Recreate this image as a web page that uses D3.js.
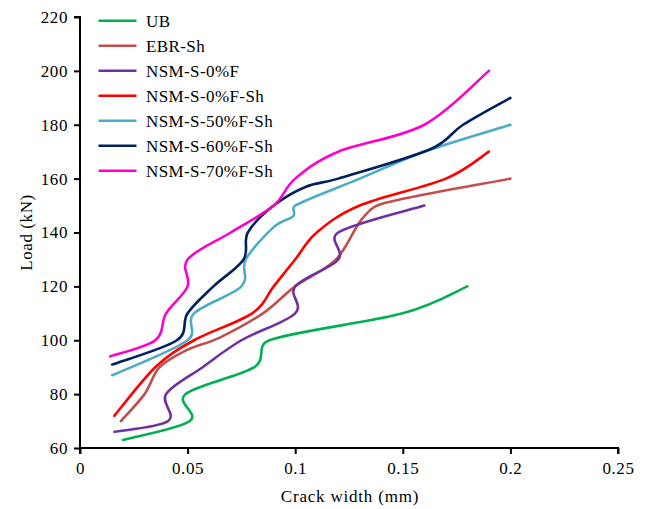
<!DOCTYPE html>
<html>
<head>
<meta charset="utf-8">
<script src="https://cdn.jsdelivr.net/npm/d3@7"></script>
<style>
  html, body { margin: 0; padding: 0; background: #fff; }
  svg text { font-family: "Liberation Serif", "Times New Roman", serif; fill: #000; }
</style>
</head>
<body>
<svg id="chart" width="649" height="509"></svg>
<script>
// ---- data (crack width in mm, load in kN) ----
const seriesNames = ["UB", "EBR-Sh", "NSM-S-0%F", "NSM-S-0%F-Sh", "NSM-S-50%F-Sh", "NSM-S-60%F-Sh", "NSM-S-70%F-Sh"];
const seriesColors = ["#00B050", "#C0504D", "#7030A0", "#FF0000", "#4BACC6", "#002060", "#FF00CC"];

const ubWidth   = [0.020, 0.051, 0.049, 0.081, 0.088, 0.150, 0.180];
const ubLoad    = [63, 70, 80, 90, 100, 110, 120];

const ebrWidth  = [0.019, 0.030, 0.037, 0.050, 0.065, 0.085, 0.100, 0.119, 0.131, 0.142, 0.200];
const ebrLoad   = [70, 80, 90, 96.5, 101, 110, 120, 130, 145, 151, 160];

const nsm0Width = [0.016, 0.041, 0.040, 0.057, 0.075, 0.100, 0.100, 0.120, 0.120, 0.160];
const nsm0Load  = [66, 70, 80, 90, 100, 110, 120, 130, 140, 150];

const nsm0ShWidth = [0.016, 0.035, 0.053, 0.080, 0.090, 0.100, 0.110, 0.130, 0.170, 0.190];
const nsm0ShLoad  = [72, 90, 100, 110, 120, 130, 140, 150, 160, 170];

const nsm50Width = [0.015, 0.050, 0.053, 0.075, 0.077, 0.090, 0.099, 0.100, 0.130, 0.160, 0.200];
const nsm50Load  = [87, 100, 110, 120, 130, 142, 146, 150, 160, 170, 180];

const nsm60Width = [0.015, 0.045, 0.050, 0.062, 0.076, 0.078, 0.090, 0.105, 0.120, 0.163, 0.178, 0.200];
const nsm60Load  = [91, 100, 110, 120, 130, 140, 150, 157, 160, 171, 180, 190];

const nsm70Width = [0.014, 0.035, 0.040, 0.050, 0.050, 0.070, 0.090, 0.100, 0.120, 0.160, 0.190];
const nsm70Load  = [94, 100, 110, 120, 130, 140, 150, 160, 170, 180, 200];

const xTicks = [0, 0.05, 0.1, 0.15, 0.2, 0.25];
const yTicks = [60, 80, 100, 120, 140, 160, 180, 200, 220];
const xTickLabels = ["0", "0.05", "0.1", "0.15", "0.2", "0.25"];
const xTitle = "Crack width (mm)";
const yTitle = "Load (kN)";

const widths = [ubWidth, ebrWidth, nsm0Width, nsm0ShWidth, nsm50Width, nsm60Width, nsm70Width];
const loads  = [ubLoad, ebrLoad, nsm0Load, nsm0ShLoad, nsm50Load, nsm60Load, nsm70Load];

// ---- layout ----
const svg = d3.select("#chart");
const x = d3.scaleLinear().domain([0, 0.25]).range([80, 618]);
const y = d3.scaleLinear().domain([60, 220]).range([448, 17]);

// axes
const xAxis = d3.axisBottom(x).tickValues(xTicks).tickFormat((d, i) => xTickLabels[i]).tickSize(6).tickPadding(8);
const yAxis = d3.axisLeft(y).tickValues(yTicks).tickFormat(d3.format("d")).tickSize(6).tickPadding(6);

const gx = svg.append("g").attr("transform", `translate(0,${y(60)})`).call(xAxis);
const gy = svg.append("g").attr("transform", `translate(${x(0)},0)`).call(yAxis);
[gx, gy].forEach(g => {
  g.select(".domain").attr("stroke", "#000").attr("stroke-width", 2);
  g.selectAll(".tick line").attr("stroke", "#000").attr("stroke-width", 2);
  g.selectAll(".tick text").style("font-family", "Liberation Serif, serif").style("font-size", "17px").style("letter-spacing", "0.6px").attr("fill", "#000");
});
gx.select(".domain").attr("d", `M${x(0)},6V0H${x(0.25)}V6`);
gy.select(".domain").attr("d", `M-6,${y(220)}H0V${y(60)}`);

// Excel-style smoothed scatter line (Bezier with limited handles), built from scaled points
function smoothPath(pts) {
  const p = d3.path();
  const n = pts.length;
  const dist = (a, b) => Math.hypot(b[0] - a[0], b[1] - a[1]);
  p.moveTo(pts[0][0], pts[0][1]);
  for (let i = 0; i < n - 1; i++) {
    const p0 = pts[Math.max(i - 1, 0)], p1 = pts[i], p2 = pts[i + 1], p3 = pts[Math.min(i + 2, n - 1)];
    const d12 = dist(p1, p2), d02 = dist(p0, p2), d13 = dist(p1, p3);
    let f0 = 1 / 6, f1 = 1 / 6;
    if (d02 / 6 >= d12 / 2 && d02 > 0) f0 = d12 / d02 / 2;
    if (d13 / 6 >= d12 / 2 && d13 > 0) f1 = d12 / d13 / 2;
    const c1 = [p1[0] + (p2[0] - p0[0]) * f0, p1[1] + (p2[1] - p0[1]) * f0];
    const c2 = [p2[0] - (p3[0] - p1[0]) * f1, p2[1] - (p3[1] - p1[1]) * f1];
    p.bezierCurveTo(c1[0], c1[1], c2[0], c2[1], p2[0], p2[1]);
  }
  return p.toString();
}

seriesNames.forEach((name, i) => {
  const pts = widths[i].map((w, j) => [x(w), y(loads[i][j])]);
  svg.append("path")
    .attr("fill", "none")
    .attr("stroke", seriesColors[i])
    .attr("stroke-width", 2.6)
    .attr("stroke-linecap", "round")
    .attr("stroke-linejoin", "round")
    .attr("d", smoothPath(pts));
});

// legend
const legend = svg.append("g");
seriesNames.forEach((name, i) => {
  const ly = 20.7 + i * 25;
  legend.append("line")
    .attr("x1", 98.5).attr("x2", 136.5)
    .attr("y1", ly).attr("y2", ly)
    .attr("stroke", seriesColors[i]).attr("stroke-width", 2.6);
  legend.append("text")
    .attr("x", 146).attr("y", ly + 6)
    .style("font-size", "17px").style("letter-spacing", "0.4px")
    .text(name);
});

// titles
svg.append("text")
  .attr("x", 350).attr("y", 502)
  .attr("text-anchor", "middle")
  .style("font-size", "17px").style("letter-spacing", "0.8px")
  .text(xTitle);

svg.append("text")
  .attr("transform", `translate(32,${(y(60) + y(220)) / 2}) rotate(-90)`)
  .attr("text-anchor", "middle")
  .style("font-size", "17px").style("letter-spacing", "0.6px")
  .text(yTitle);
</script>
</body>
</html>
